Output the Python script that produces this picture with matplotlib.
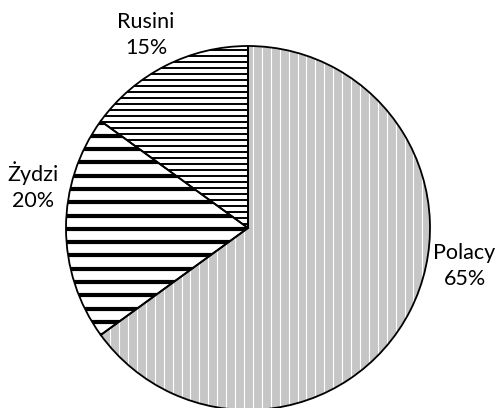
import numpy as np
import matplotlib
matplotlib.use("Agg")
import matplotlib.pyplot as plt
import matplotlib.patches as mpatches
from matplotlib.collections import LineCollection

# data
labels = ["Polacy", "Żydzi", "Rusini"]
shares = [65, 20, 15]
label_pos = [(1.19, -0.21), (-1.18, 0.23), (-0.56, 1.06)]

# stripe style per slice: face, line colour, line width (pt), spacing, direction
stripe_styles = [
    dict(face="#c6c6c6", color="white", lw=0.8, step=0.049, vertical=True),
    dict(face="white", color="black", lw=3.0, step=0.073, vertical=False),
    dict(face="white", color="black", lw=1.4, step=0.033, vertical=False),
]


def add_stripes(ax, wedge, style):
    """Fill a wedge with parallel lines clipped to its shape."""
    offs = np.arange(-1.1, 1.1, style["step"])
    if style["vertical"]:
        segs = [[(o, -1.1), (o, 1.1)] for o in offs]
    else:
        segs = [[(-1.1, o), (1.1, o)] for o in offs]
    lc = LineCollection(segs, colors=style["color"], linewidths=style["lw"], zorder=2)
    lc.set_clip_path(wedge)
    ax.add_collection(lc)


def main():
    plt.rcParams["font.family"] = ["Lato", "DejaVu Sans"]
    fig = plt.figure(figsize=(5, 4.08), dpi=100)

    lim = 1.02
    r_px = 182
    cx, cy = 248, 228
    w = 2 * lim * r_px
    ax = fig.add_axes([(cx - lim * r_px) / 500, (408 - cy - lim * r_px) / 408, w / 500, w / 408])

    wedges, _ = ax.pie(shares, startangle=90, counterclock=False,
                       colors=[s["face"] for s in stripe_styles],
                       wedgeprops=dict(linewidth=0))
    for wg, st in zip(wedges, stripe_styles):
        add_stripes(ax, wg, st)
        outline = mpatches.Wedge(wg.center, wg.r, wg.theta1, wg.theta2,
                                 fill=False, ec="black", lw=1.3, zorder=3)
        ax.add_patch(outline)

    for name, val, (x, y) in zip(labels, shares, label_pos):
        ax.text(x, y, f"{name}\n{val}%", ha="center", va="center",
                fontsize=15.5, linespacing=1.4, color="black")

    ax.set_xlim(-lim, lim)
    ax.set_ylim(-lim, lim)
    ax.set_aspect("equal")
    ax.axis("off")
    fig.savefig("out.png", dpi=100)


if __name__ == "__main__":
    main()
